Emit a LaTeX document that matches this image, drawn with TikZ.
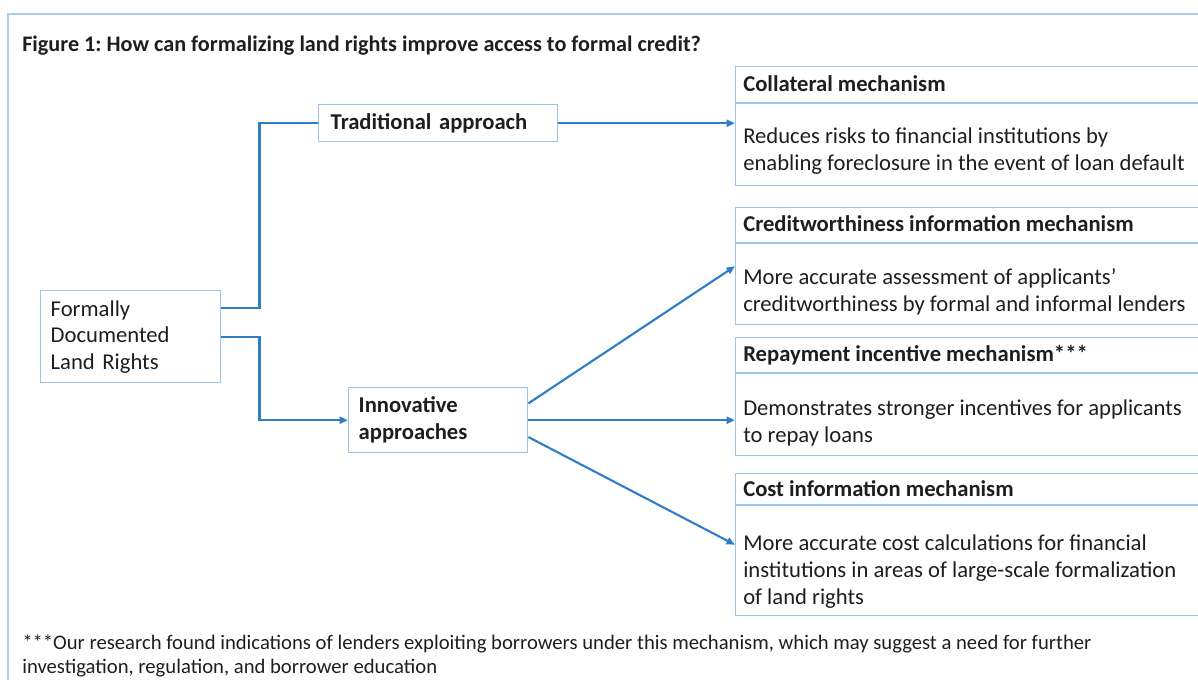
\documentclass[tikz,border=0pt]{standalone}
\usepackage{fontspec}
\setmainfont{Carlito}
\frenchspacing
\usetikzlibrary{positioning,arrows.meta}

\definecolor{linkblue}{HTML}{2F7DC6}
\definecolor{boxblue}{HTML}{9CC4E8}
\definecolor{frameblue}{HTML}{A9CCEB}
\definecolor{ink}{HTML}{1E1E1E}

\tikzset{
    box/.style={draw=boxblue,line width=1pt,inner sep=0pt},
    rule/.style={draw=boxblue,line width=1pt},
    txt/.style={anchor=west,inner sep=0pt,align=left,text=ink,font=\fontsize{16.1}{19.2}\selectfont},
    head/.style={txt,font=\fontsize{16.1}{19.2}\selectfont\bfseries},
    link/.style={draw=linkblue,line width=1.5pt},
    tip/.style={-{Triangle[length=6pt,width=5pt]}}
}

\begin{document}
\begin{tikzpicture}[x=0.025cm,y=-0.025cm]
    \useasboundingbox (0,0) rectangle (1198,679);
    \clip (0,0) rectangle (1198,679);

    % frame around the figure
    \draw[draw=frameblue,line width=1.4pt] (8,690) -- (8,14) -- (1210,14);

    \node[head,font=\fontsize{15.8}{18}\selectfont\bfseries] (title) at (22,46)
        {Figure 1: How can formalizing land rights improve access to formal credit?};

    % left side
    \node[box,txt,anchor=north west,minimum width=4.5cm,minimum height=2.3cm,
          text width=4cm,inner xsep=0.25cm,font=\fontsize{16.1}{18.8}\selectfont] (land) at (40,290)
        {Formally\\Documented\\Land Rights};
    \node[box,head,anchor=north west,minimum width=5.975cm,minimum height=0.925cm,
          text width=5.375cm,inner xsep=0.3cm] (trad) at (318,104) {Traditional approach};
    \node[box,head,anchor=north west,minimum width=4.475cm,minimum height=1.625cm,
          text width=3.975cm,inner xsep=0.25cm] (innov) at (348,387) {Innovative\\approaches};

    % mechanism boxes
    \node[box,anchor=north west,minimum width=12cm,minimum height=2.975cm] (coll) at (735,66) {};
    \node[box,anchor=north west,minimum width=12cm,minimum height=2.925cm] (credit) at (735,207) {};
    \node[box,anchor=north west,minimum width=12cm,minimum height=2.95cm] (repay) at (735,337) {};
    \node[box,anchor=north west,minimum width=12cm,minimum height=3.55cm] (cost) at (735,473) {};

    \draw[rule] (coll.west |- 0,103) -- (coll.east |- 0,103);
    \draw[rule] (credit.west |- 0,243) -- (credit.east |- 0,243);
    \draw[rule] (repay.west |- 0,373) -- (repay.east |- 0,373);
    \draw[rule] (cost.west |- 0,505) -- (cost.east |- 0,505);

    \node[head] (collhead) at (743,84) {Collateral mechanism};
    \node[txt] (collbody) at (743,151.5)
        {Reduces risks to financial institutions by\\enabling foreclosure in the event of loan default};

    \node[head] (credithead) at (743,224) {Creditworthiness information mechanism};
    \node[txt] (creditbody) at (743,291.5)
        {More accurate assessment of applicants’\\creditworthiness by formal and informal lenders};

    \node[head] (repayhead) at (743,355) {Repayment incentive mechanism***};
    \node[txt] (repaybody) at (743,423)
        {Demonstrates stronger incentives for applicants\\to repay loans};

    \node[head] (costhead) at (743,489) {Cost information mechanism};
    \node[txt] (costbody) at (743,572)
        {More accurate cost calculations for financial\\institutions in areas of large-scale formalization\\of land rights};

    % connectors
    \draw[link] ([yshift=20.5pt]land.east) -- ++(38,0) |- (trad.west);
    \draw[link,tip] (land.east) -- ++(38,0) |- (innov.west);
    \draw[link,tip] (trad.east) -- (trad.east -| coll.west);
    \draw[link,tip] ([yshift=12pt]innov.east) -- (credit.west);
    \draw[link,tip] (innov.east) -- (innov.east -| repay.west);
    \draw[link,tip] ([yshift=-12pt]innov.east) -- (cost.west);

    \node[txt,font=\fontsize{14.7}{16.6}\selectfont] (note) at (22,656)
        {***Our research found indications of lenders exploiting borrowers under this mechanism, which may suggest a need for further\\investigation, regulation, and borrower education};
\end{tikzpicture}
\end{document}
